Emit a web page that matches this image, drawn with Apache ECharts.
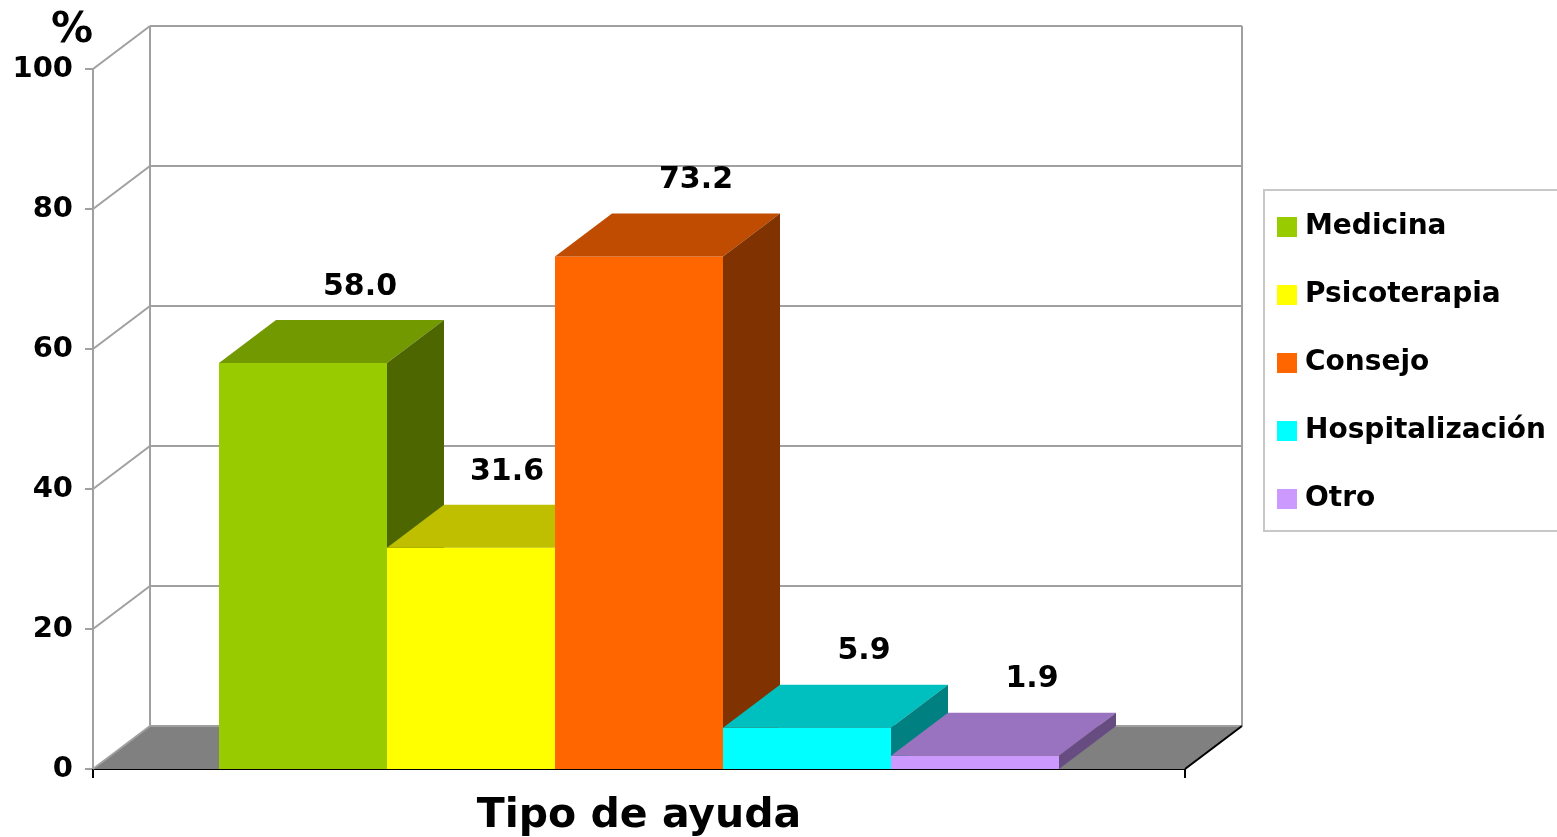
<!DOCTYPE html>
<html>
<head>
<meta charset="utf-8">
<title>Tipo de ayuda</title>
<script src="https://cdn.jsdelivr.net/npm/echarts@6/dist/echarts.min.js"></script>
<style>
html, body { margin: 0; padding: 0; background: #fff; }
#chart { width: 1557px; height: 837px; }
</style>
</head>
<body>
<div id="chart"></div>
<script>
// data
var categories = ['Medicina', 'Psicoterapia', 'Consejo', 'Hospitalización', 'Otro']
var values = [58.0, 31.6, 73.2, 5.9, 1.9]
var yTicks = [0, 20, 40, 60, 80, 100]

// face colours of the 3d bars
var frontColors = ['#99cc00', '#ffff00', '#ff6600', '#00ffff', '#cc99ff']
var topColors = ['#739900', '#bfbf00', '#bf4c00', '#00bfbf', '#9973bf']
var sideColors = ['#4d6600', '#808000', '#803300', '#008080', '#664c80']

var DX = 57, DY = -43      // depth offset of the box
var X_MIN = -0.75, X_MAX = 5.75
var FONT = 'DejaVu Sans'
var LABEL_FONT = 'bold 30px ' + FONT

var ctx = document.createElement('canvas').getContext('2d')
function textWidth(str) {
  ctx.font = LABEL_FONT
  return ctx.measureText(str).width
}

function renderWalls(params, api) {
  var kids = []
  var f0 = api.coord([X_MIN, 0]), f1 = api.coord([X_MAX, 0])
  var t0 = api.coord([X_MIN, 100]), t1 = api.coord([X_MAX, 100])
  var grey = '#a0a0a0'
  kids.push({
    type: 'polygon',
    shape: { points: [[f0[0], f0[1]], [f1[0], f1[1]], [f1[0] + DX, f1[1] + DY], [f0[0] + DX, f0[1] + DY]] },
    style: { fill: '#808080' }
  })
  yTicks.forEach(function (v) {
    var p = api.coord([X_MIN, v]), q = api.coord([X_MAX, v])
    kids.push({ type: 'line', shape: { x1: p[0], y1: p[1], x2: p[0] + DX, y2: p[1] + DY }, style: { stroke: grey, lineWidth: 2 } })
    kids.push({ type: 'line', shape: { x1: p[0] + DX, y1: p[1] + DY, x2: q[0] + DX, y2: q[1] + DY }, style: { stroke: grey, lineWidth: 2 } })
  })
  kids.push({ type: 'line', shape: { x1: f0[0] + DX, y1: f0[1] + DY, x2: t0[0] + DX, y2: t0[1] + DY }, style: { stroke: grey, lineWidth: 2 } })
  kids.push({ type: 'line', shape: { x1: f1[0] + DX, y1: f1[1] + DY, x2: t1[0] + DX, y2: t1[1] + DY }, style: { stroke: grey, lineWidth: 2 } })
  kids.push({ type: 'line', shape: { x1: f1[0], y1: f1[1], x2: f1[0] + DX, y2: f1[1] + DY }, style: { stroke: '#000', lineWidth: 2 } })
  return { type: 'group', children: kids }
}

function renderBar(params, api) {
  var i = api.value(0), v = api.value(1)
  var a = api.coord([i, 0]), b = api.coord([i + 1, v])
  var x0 = a[0], x1 = b[0], yb = a[1], yt = b[1]
  return {
    type: 'group',
    children: [
      { type: 'rect', shape: { x: x0, y: yt, width: x1 - x0, height: yb - yt }, style: { fill: frontColors[i] } },
      { type: 'polygon', shape: { points: [[x0, yt], [x1, yt], [x1 + DX, yt + DY], [x0 + DX, yt + DY]] }, style: { fill: topColors[i] } },
      { type: 'polygon', shape: { points: [[x1, yt], [x1 + DX, yt + DY], [x1 + DX, yb + DY], [x1, yb]] }, style: { fill: sideColors[i] } }
    ]
  }
}

function renderLabel(params, api) {
  var i = api.value(0), v = api.value(1)
  var a = api.coord([i, 0]), b = api.coord([i + 1, v])
  var txt = v.toFixed(1)
  var w = textWidth(txt)
  var cx = (a[0] + b[0]) / 2 + DX
  var cy = b[1] + DY - 33
  // keep the label clear of a taller neighbour on the right
  if (i + 1 < values.length) {
    var n = api.coord([i + 1, values[i + 1]])
    if (n[1] < cy + 15) cx = Math.min(cx, b[0] - w / 2 - 11)
  }
  return {
    type: 'text',
    x: cx,
    y: cy,
    style: { text: txt, font: LABEL_FONT, fill: '#000', align: 'center', verticalAlign: 'middle' }
  }
}

var series = [{
  type: 'custom',
  silent: true,
  z: 1,
  renderItem: renderWalls,
  data: [[0, 0]]
}]
categories.forEach(function (name, i) {
  series.push({
    name: name,
    type: 'custom',
    silent: true,
    z: 2,
    itemStyle: { color: frontColors[i] },
    renderItem: renderBar,
    data: [[i, values[i]]]
  })
})
series.push({
  type: 'custom',
  silent: true,
  z: 3,
  renderItem: renderLabel,
  data: values.map(function (v, i) { return [i, v] })
})

var chart = echarts.init(document.getElementById('chart'))
chart.setOption({
  animation: false,
  backgroundColor: '#fff',
  textStyle: { fontFamily: FONT },
  grid: { left: 93, right: 372, top: 69, bottom: 68, outerBoundsMode: 'none' },
  legend: {
    data: categories,
    orient: 'vertical',
    left: 1264,
    top: 190,
    padding: [23, 120, 18, 13],
    itemWidth: 20,
    itemHeight: 20,
    itemGap: 40,
    icon: 'rect',
    selectedMode: false,
    borderColor: '#c8c8c8',
    borderWidth: 2,
    textStyle: { fontFamily: FONT, fontWeight: 'bold', fontSize: 28, color: '#000', padding: [0, 0, 0, 3] }
  },
  xAxis: {
    type: 'value',
    min: X_MIN,
    max: X_MAX,
    name: 'Tipo de ayuda',
    nameLocation: 'middle',
    nameGap: 27,
    nameTextStyle: { fontFamily: FONT, fontWeight: 'bold', fontSize: 41, color: '#000', verticalAlign: 'top' },
    axisLine: { lineStyle: { color: '#000', width: 2 } },
    axisTick: { show: true, customValues: [X_MIN, X_MAX], length: 9, lineStyle: { color: '#000', width: 2 } },
    axisLabel: { show: false },
    splitLine: { show: false }
  },
  yAxis: {
    type: 'value',
    min: 0,
    max: 100,
    interval: 20,
    name: '%',
    nameLocation: 'end',
    nameGap: 17,
    nameTextStyle: { fontFamily: FONT, fontWeight: 'bold', fontSize: 42, color: '#000', align: 'right', verticalAlign: 'bottom' },
    axisLine: { show: true, onZero: false, lineStyle: { color: '#a0a0a0', width: 2 } },
    axisTick: { show: true, length: 8, lineStyle: { color: '#a0a0a0', width: 2 } },
    axisLabel: { margin: 20, fontFamily: FONT, fontWeight: 'bold', fontSize: 29, color: '#000', padding: [8, 0, 0, 0] },
    splitLine: { show: false }
  },
  series: series
})
</script>
</body>
</html>
